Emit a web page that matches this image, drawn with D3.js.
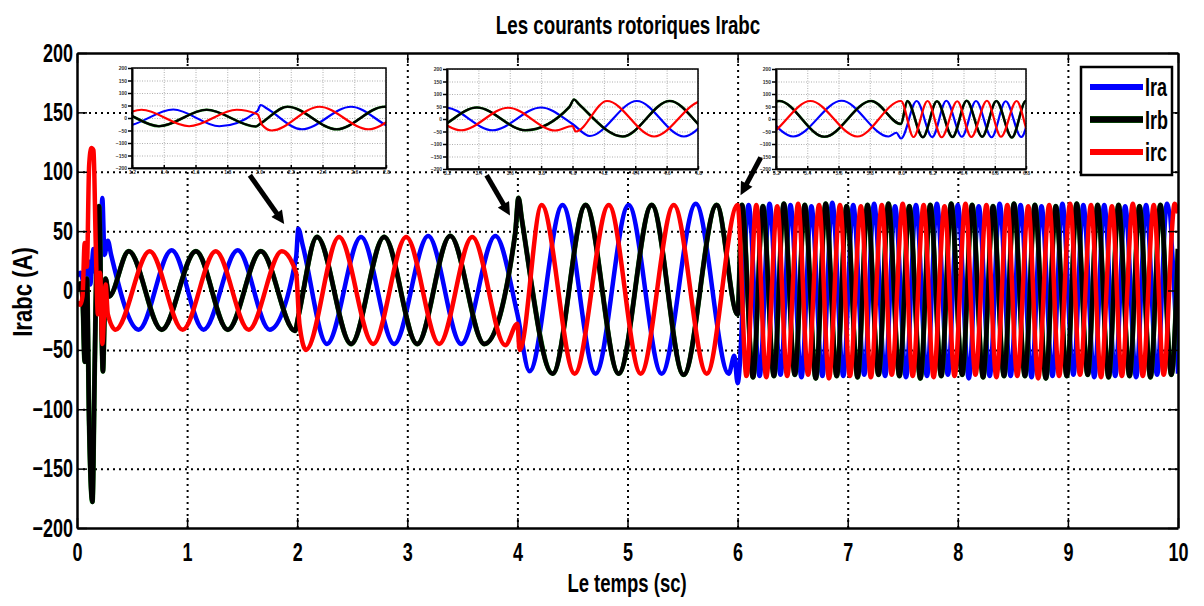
<!DOCTYPE html>
<html>
<head>
<meta charset="utf-8">
<script src="https://cdn.jsdelivr.net/npm/d3@7"></script>
<style>
  body { margin: 0; background: #fff; }
</style>
</head>
<body>
<div id="chart"></div>
<script>
// ---- data ----
const xTicks = [0, 1, 2, 3, 4, 5, 6, 7, 8, 9, 10];
const yTicks = [-200, -150, -100, -50, 0, 50, 100, 150, 200];
const seriesNames = ["Ira", "Irb", "irc"];
const seriesColors = ["#0000ff", "#000000", "#ff0000"];

// [time (s), current (A)] at the peaks / troughs of each rotor phase current
const ira = [
  [0, 12], [0.03, 15], [0.06, 5], [0.08, -5], [0.1, 25], [0.12, 5], [0.15, 35], [0.17, 15],
  [0.19, 45], [0.21, 20], [0.23, 78], [0.25, 30], [0.28, 42], [0.31, 30],
  [0.56, -33], [0.86, 34], [1.15, -33], [1.46, 34], [1.75, -33], [1.99, 28], [2.01, 52], [2.05, 38],
  [2.27, -45], [2.58, 45], [2.88, -45], [3.19, 46], [3.49, -45], [3.8, 46], [4.0, -20],
  [4.11, -68], [4.41, 72], [4.71, -70], [5.01, 72], [5.31, -70], [5.62, 73], [5.92, -70], [5.97, -55], [6.0, -78],
  [6.10, 72], [6.20, -72], [6.29, 73], [6.39, -71], [6.48, 72], [6.58, -73], [6.67, 71], [6.77, -72],
  [6.86, 74], [6.96, -72], [7.05, 72], [7.15, -71], [7.24, 73], [7.34, -72], [7.43, 71], [7.53, -73],
  [7.62, 72], [7.72, -72], [7.81, 73], [7.91, -71], [8.00, 72], [8.10, -74], [8.19, 71], [8.29, -72],
  [8.38, 73], [8.48, -72], [8.57, 72], [8.67, -73], [8.76, 71], [8.86, -72], [8.95, 73], [9.05, -71],
  [9.14, 72], [9.24, -73], [9.33, 72], [9.43, -72], [9.52, 71], [9.62, -73], [9.71, 72], [9.81, -71],
  [9.90, 73], [10, -70]
];
const irb = [
  [0, 0], [0.03, 6], [0.05, -5], [0.07, -60], [0.09, 10], [0.11, -110], [0.14, -178], [0.16, -70],
  [0.18, 40], [0.2, 71], [0.22, -15], [0.235, -68], [0.26, 10], [0.29, -5],
  [0.47, 33], [0.77, -33], [1.08, 33], [1.37, -33], [1.67, 33], [1.98, -34], [2.01, -22],
  [2.18, 45], [2.49, -45], [2.79, 45], [3.09, -45], [3.39, 46], [3.7, -45], [3.98, 48], [4.01, 78], [4.04, 60],
  [4.32, -70], [4.62, 72], [4.92, -70], [5.22, 72], [5.51, -71], [5.81, 72], [6.0, -20],
  [6.04, 72], [6.14, -73], [6.23, 71], [6.33, -72], [6.42, 73], [6.52, -71], [6.61, 72], [6.71, -74],
  [6.80, 73], [6.90, -72], [6.99, 71], [7.09, -73], [7.18, 72], [7.28, -71], [7.37, 73], [7.47, -72],
  [7.56, 71], [7.66, -74], [7.75, 72], [7.85, -72], [7.94, 73], [8.04, -71], [8.13, 72], [8.23, -73],
  [8.32, 71], [8.42, -72], [8.51, 73], [8.61, -72], [8.70, 72], [8.80, -74], [8.89, 71], [8.99, -72],
  [9.08, 73], [9.18, -71], [9.27, 72], [9.37, -73], [9.46, 72], [9.56, -72], [9.65, 71], [9.75, -73],
  [9.84, 72], [9.94, -71], [10, 35]
];
const irc = [
  [0, -10], [0.03, -12], [0.05, -5], [0.07, 40], [0.09, 20], [0.11, 105], [0.13, 120], [0.15, 118],
  [0.17, 40], [0.19, -20], [0.21, 15], [0.23, -45], [0.26, 5], [0.28, -20],
  [0.35, -33], [0.66, 33], [0.96, -33], [1.26, 33], [1.56, -33], [1.86, 33], [1.99, 15], [2.02, -28],
  [2.08, -50], [2.38, 45], [2.69, -45], [2.99, 45], [3.29, -45], [3.59, 45], [3.89, -46], [4.0, -28], [4.02, -50],
  [4.22, 72], [4.52, -70], [4.83, 72], [5.12, -70], [5.42, 72], [5.72, -70], [6.0, 72],
  [6.08, -72], [6.17, 72], [6.26, -73], [6.36, 71], [6.45, -72], [6.55, 73], [6.64, -71], [6.74, 72],
  [6.83, -74], [6.93, 72], [7.02, -72], [7.12, 71], [7.21, -73], [7.31, 72], [7.40, -71], [7.50, 73],
  [7.59, -72], [7.69, 72], [7.78, -73], [7.88, 71], [7.97, -72], [8.07, 73], [8.16, -71], [8.26, 72],
  [8.35, -73], [8.45, 72], [8.54, -72], [8.64, 71], [8.73, -74], [8.83, 72], [8.92, -72], [9.02, 73],
  [9.11, -71], [9.21, 72], [9.30, -73], [9.40, 71], [9.49, -72], [9.59, 73], [9.68, -72], [9.78, 72],
  [9.87, -71], [9.97, 73], [10, 65]
];

// zoomed windows shown in the three insets
const insetWindows = [[1.2, 2.8], [3.2, 4.8], [5.2, 6.8]];
const insetXTicks = [
  [1.2, 1.4, 1.6, 1.8, 2, 2.2, 2.4, 2.6, 2.8],
  [3.2, 3.4, 3.6, 3.8, 4, 4.2, 4.4, 4.6, 4.8],
  [5.2, 5.4, 5.6, 5.8, 6, 6.2, 6.4, 6.6, 6.8]
];
const insetYTicks = [-200, -150, -100, -50, 0, 50, 100, 150, 200];

// arrows: [from (t, A), to (t, A)]
const arrowsData = [
  [[1.57, 97], [1.89, 55]],
  [[3.72, 97], [3.94, 62]],
  [[6.21, 112], [6.02, 79]]
];

const titleText = "Les courants rotoriques Irabc";
const xLabel = "Le temps (sc)";
const yLabel = "Irabc (A)";

// ---- layout ----
const W = 1204, H = 606;
const margin = { top: 53, right: 26, bottom: 78, left: 77 };
const width = W - margin.left - margin.right;
const height = H - margin.top - margin.bottom;
const FONT = "'Liberation Sans', Arial, sans-serif";
const SQ = "scale(0.72,1)";
const EDGE = "#0a7a0a";

const series = seriesNames.map((n, i) => ({ name: n, color: seriesColors[i], values: [ira, irb, irc][i] }));

const x = d3.scaleLinear().domain([0, 10]).range([0, width]);
const y = d3.scaleLinear().domain([-200, 200]).range([height, 0]);

const svg = d3.select("#chart").append("svg")
  .attr("width", W).attr("height", H)
  .style("font-family", FONT)
  .style("background", "#fff");

const defs = svg.append("defs");
defs.append("clipPath").attr("id", "plotClip")
  .append("rect").attr("width", width).attr("height", height);

const g = svg.append("g").attr("transform", `translate(${margin.left},${margin.top})`);

// dotted grid
const gridX = g.append("g").attr("transform", `translate(0,${height})`)
  .call(d3.axisBottom(x).tickValues(xTicks.slice(1, -1)).tickSize(-height).tickFormat(""));
const gridY = g.append("g")
  .call(d3.axisLeft(y).tickValues(yTicks.slice(1, -1)).tickSize(-width).tickFormat(""));
[gridX, gridY].forEach(gr => {
  gr.select(".domain").remove();
  gr.selectAll("line").attr("stroke", "#000").attr("stroke-width", 2).attr("stroke-dasharray", "2,4");
});

// traces
const line = d3.line().x(d => x(d[0])).y(d => y(d[1])).curve(d3.curveMonotoneX);
const plot = g.append("g").attr("clip-path", "url(#plotClip)");
series.forEach(s => {
  if (s.color === "#000000") {
    plot.append("path").datum(s.values)
      .attr("fill", "none").attr("stroke", EDGE).attr("stroke-width", 4.9).attr("d", line);
  }
  plot.append("path").datum(s.values)
    .attr("fill", "none").attr("stroke", s.color).attr("stroke-width", 4.5)
    .attr("stroke-linejoin", "round").attr("d", line);
});

// axes box with inward ticks
function styleAxis(ax, withText) {
  ax.select(".domain").attr("stroke", "#000").attr("stroke-width", 2.5);
  ax.selectAll(".tick line").attr("stroke", "#000").attr("stroke-width", 1.5);
  if (withText) {
    ax.selectAll("text").attr("font-size", 25).attr("font-weight", "bold")
      .attr("fill", "#000").attr("transform", SQ);
  } else {
    ax.selectAll("text").remove();
  }
}
styleAxis(g.append("g").attr("transform", `translate(0,${height})`)
  .call(d3.axisBottom(x).tickValues(xTicks).tickSizeInner(-10).tickSizeOuter(0).tickPadding(15)), true);
styleAxis(g.append("g")
  .call(d3.axisTop(x).tickValues(xTicks).tickSizeInner(-10).tickSizeOuter(0)), false);
styleAxis(g.append("g")
  .call(d3.axisLeft(y).tickValues(yTicks).tickSizeInner(-10).tickSizeOuter(0).tickPadding(5.5)), true);
styleAxis(g.append("g").attr("transform", `translate(${width},0)`)
  .call(d3.axisRight(y).tickValues(yTicks).tickSizeInner(-10).tickSizeOuter(0)), false);

// insets
const insetBoxes = [
  { x: 132, y: 68, w: 254, h: 100 },
  { x: 447, y: 69, w: 251, h: 100 },
  { x: 776, y: 69, w: 250, h: 100 }
];
insetBoxes.forEach((b, i) => {
  const ix = d3.scaleLinear().domain(insetWindows[i]).range([0, b.w]);
  const iy = d3.scaleLinear().domain([-200, 200]).range([b.h, 0]);
  const ig = svg.append("g").attr("transform", `translate(${b.x},${b.y})`);
  ig.append("rect").attr("width", b.w).attr("height", b.h).attr("fill", "#fff");

  const igx = ig.append("g").attr("transform", `translate(0,${b.h})`)
    .call(d3.axisBottom(ix).tickValues(insetXTicks[i]).tickSize(-b.h).tickFormat(""));
  const igy = ig.append("g")
    .call(d3.axisLeft(iy).tickValues(insetYTicks).tickSize(-b.w).tickFormat(""));
  [igx, igy].forEach(gr => {
    gr.select(".domain").remove();
    gr.selectAll("line").attr("stroke", "#9a9a9a").attr("stroke-width", 0.8).attr("stroke-dasharray", "1,1.5");
  });

  defs.append("clipPath").attr("id", "insetClip" + i)
    .append("rect").attr("width", b.w).attr("height", b.h);
  const iline = d3.line().x(d => ix(d[0])).y(d => iy(d[1])).curve(d3.curveMonotoneX);
  const ip = ig.append("g").attr("clip-path", `url(#insetClip${i})`);
  series.forEach(s => {
    if (s.color === "#000000") {
      ip.append("path").datum(s.values)
        .attr("fill", "none").attr("stroke", EDGE).attr("stroke-width", 2.6).attr("d", iline);
    }
    ip.append("path").datum(s.values)
      .attr("fill", "none").attr("stroke", s.color).attr("stroke-width", 2.2).attr("d", iline);
  });

  const ab = ig.append("g").attr("transform", `translate(0,${b.h})`)
    .call(d3.axisBottom(ix).tickValues(insetXTicks[i]).tickSizeInner(-3).tickSizeOuter(0).tickPadding(2));
  const al = ig.append("g")
    .call(d3.axisLeft(iy).tickValues(insetYTicks).tickSizeInner(4).tickSizeOuter(0).tickPadding(1));
  [ab, al].forEach(ax => {
    ax.select(".domain").attr("stroke", "#000").attr("stroke-width", 2);
    ax.selectAll(".tick line").attr("stroke", "#000").attr("stroke-width", 1.5);
    ax.selectAll("text").attr("font-size", 5).attr("font-weight", "bold").attr("fill", "#333");
  });
  ig.append("rect").attr("width", b.w).attr("height", b.h)
    .attr("fill", "none").attr("stroke", "#000").attr("stroke-width", 1.5);
});

// arrows
defs.append("marker").attr("id", "head")
  .attr("viewBox", "0 0 10 10").attr("refX", 2).attr("refY", 5)
  .attr("markerUnits", "userSpaceOnUse").attr("markerWidth", 15).attr("markerHeight", 13)
  .attr("orient", "auto")
  .append("path").attr("d", "M0,0 L10,5 L0,10 z").attr("fill", "#000");
arrowsData.forEach(a => {
  const x1 = margin.left + x(a[0][0]), y1 = margin.top + y(a[0][1]);
  const x2 = margin.left + x(a[1][0]), y2 = margin.top + y(a[1][1]);
  const len = Math.hypot(x2 - x1, y2 - y1);
  const k = (len - 12) / len;
  svg.append("line")
    .attr("x1", x1).attr("y1", y1)
    .attr("x2", x1 + (x2 - x1) * k).attr("y2", y1 + (y2 - y1) * k)
    .attr("stroke", "#000").attr("stroke-width", 5)
    .attr("marker-end", "url(#head)");
});

// legend
const lg = svg.append("g").attr("transform", "translate(1081,67)");
lg.append("rect").attr("width", 91).attr("height", 108)
  .attr("fill", "#fff").attr("stroke", "#000").attr("stroke-width", 2.5);
series.forEach((s, i) => {
  const ly = 20 + i * 32.5;
  if (s.color === "#000000") {
    lg.append("line").attr("x1", 9).attr("x2", 62).attr("y1", ly).attr("y2", ly)
      .attr("stroke", EDGE).attr("stroke-width", 7);
  }
  lg.append("line").attr("x1", 9).attr("x2", 62).attr("y1", ly).attr("y2", ly)
    .attr("stroke", s.color).attr("stroke-width", 6);
  lg.append("text").attr("transform", `translate(64,${ly + 9}) ${SQ}`)
    .attr("font-size", 25).attr("font-weight", "bold").text(s.name);
});

// title and axis labels
svg.append("text").attr("transform", `translate(628,34) scale(0.75,1)`)
  .attr("text-anchor", "middle").attr("font-size", 25).attr("font-weight", "bold")
  .text(titleText);
svg.append("text").attr("transform", `translate(627,592) scale(0.74,1)`)
  .attr("text-anchor", "middle").attr("font-size", 25).attr("font-weight", "bold")
  .text(xLabel);
svg.append("text").attr("transform", `translate(32,292) rotate(-90) scale(0.82,1)`)
  .attr("text-anchor", "middle").attr("font-size", 27).attr("font-weight", "bold")
  .text(yLabel);
</script>
</body>
</html>
